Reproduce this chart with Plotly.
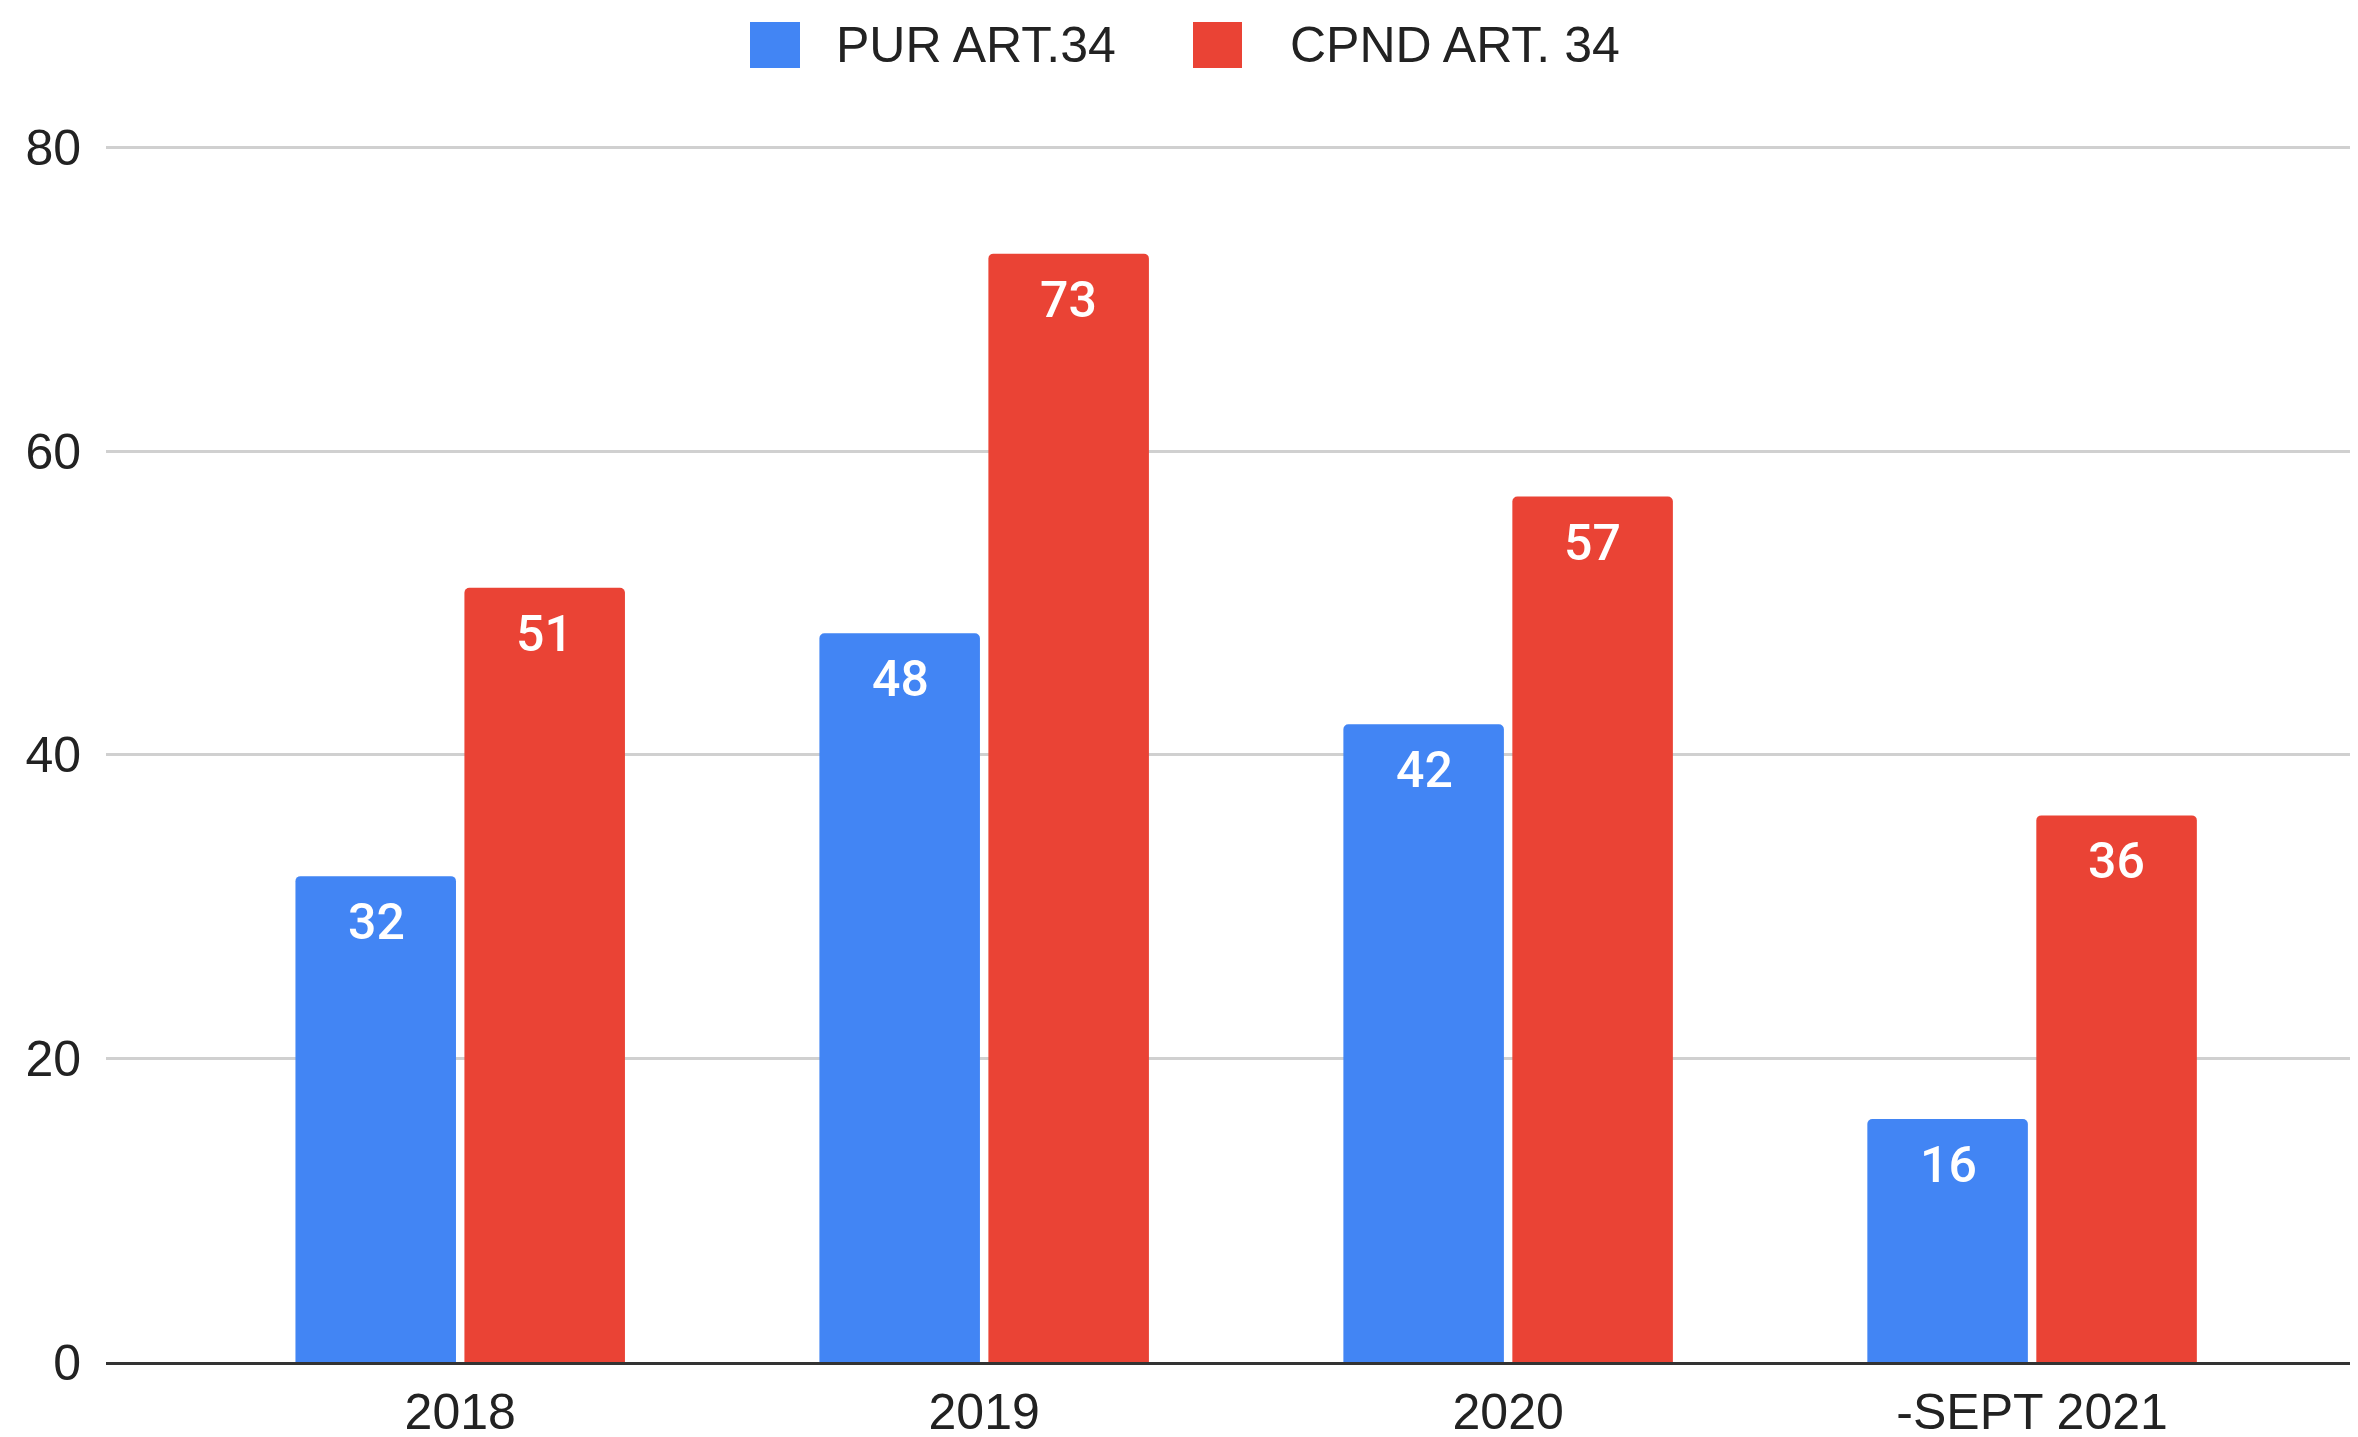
import plotly.graph_objects as go

categories = ["2018", "2019", "2020", "-SEPT 2021"]
pur_values = [32, 48, 42, 16]
cpnd_values = [51, 73, 57, 36]
series_names = ["PUR ART.34", "CPND ART. 34"]
colors = ["#4285F4", "#EA4335"]
y_ticks = [0, 20, 40, 60, 80]

# page body margin of 8px is compensated here
W, H = 2350, 1429
ML, MR, MT, MB = 98, 0, 109, 75
PW, PH = W - ML - MR, H - MT - MB
OFF = 8

def px_x(p):
    return (p - OFF - ML) / PW

def px_y(p):
    return (H - MB - (p - OFF)) / PH

fig = go.Figure()
for name, vals, col in zip(series_names, [pur_values, cpnd_values], colors):
    fig.add_trace(go.Bar(
        x=categories, y=vals, name=name,
        marker=dict(color=col, line=dict(width=0), cornerradius=5),
        showlegend=False,
    ))

# data labels
slot_px = 168
for i, vals in enumerate([pur_values, cpnd_values]):
    shift = -slot_px / 2 if i == 0 else slot_px / 2
    for ci, v in enumerate(vals):
        fig.add_annotation(
            x=ci, y=v, xref="x", yref="y", text=str(v), showarrow=False,
            xshift=shift, yshift=-46, yanchor="middle", xanchor="center",
            font=dict(family="Roboto", size=50, color="white", weight=500),
        )

# manual legend (screen pixel positions)
legend_items = [(750, 800, 834), (1193, 1242, 1288)]
for (x0, x1, tx), name, col in zip(legend_items, series_names, colors):
    fig.add_shape(type="rect", xref="paper", yref="paper",
                  x0=px_x(x0), x1=px_x(x1), y0=px_y(68), y1=px_y(22),
                  fillcolor=col, line=dict(width=0), layer="above")
    fig.add_annotation(x=px_x(tx), y=px_y(45), xref="paper", yref="paper",
                       text=name, showarrow=False, xanchor="left", yanchor="middle",
                       font=dict(family="Liberation Sans, Arial", size=50, color="#222222"))

fig.update_layout(
    width=W, height=H,
    margin=dict(l=ML, r=MR, t=MT, b=MB, autoexpand=False),
    paper_bgcolor="white", plot_bgcolor="white",
    barmode="group", bargap=0.355, bargroupgap=0.05,
    font=dict(family="Liberation Sans, Arial", size=49, color="#222222"),
    showlegend=False,
)
fig.update_xaxes(
    type="category", range=[-0.676, 3.622], automargin=False,
    showgrid=False, showline=True, linecolor="#333333", linewidth=3,
    ticks="outside", ticklen=4, tickcolor="rgba(0,0,0,0)",
    tickfont=dict(family="Liberation Sans, Arial", size=50, color="#222222"),
)
fig.update_yaxes(
    range=[0, 82], tickvals=y_ticks, showgrid=True, gridcolor="#d0d0d0", gridwidth=3,
    zeroline=False, showline=False, automargin=False,
    ticks="outside", ticklen=14, tickcolor="rgba(0,0,0,0)",
    tickfont=dict(family="Liberation Sans, Arial", size=50, color="#222222"),
)

fig.write_html("out.html")
